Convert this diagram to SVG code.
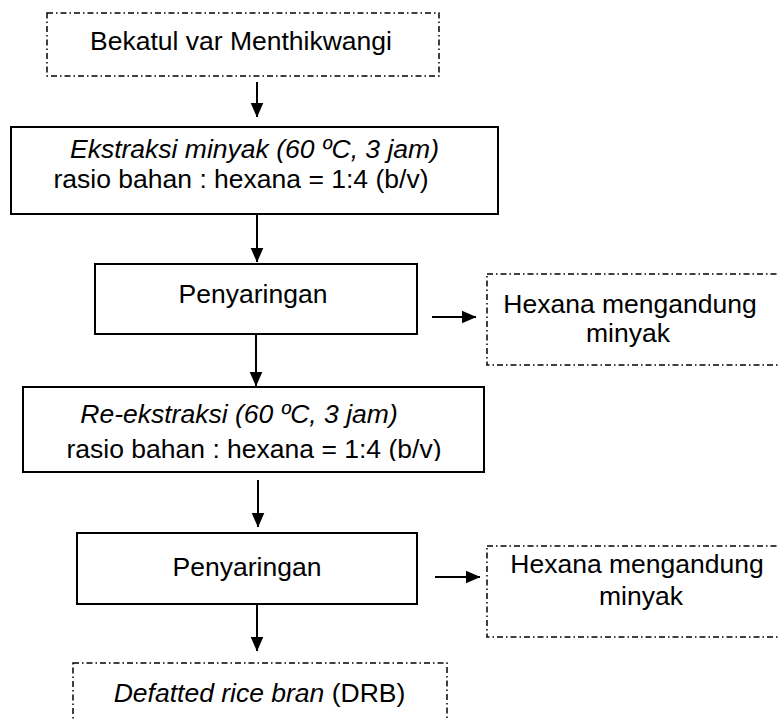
<svg xmlns="http://www.w3.org/2000/svg" width="779" height="720" viewBox="0 0 779 720">
<style>
.solid{fill:#fff;stroke:#000;stroke-width:2}
.dash{fill:#fff;stroke:#000;stroke-width:1.5;stroke-dasharray:6 3 1.5 3}
.t{font-family:"Liberation Sans",Arial,sans-serif;font-size:26.5px;fill:#000;text-anchor:middle}
.i{font-style:italic}
.c{fill:none;stroke:#000;stroke-width:2}
</style>
<defs>
<marker id="ah" markerUnits="userSpaceOnUse" markerWidth="15" markerHeight="14" viewBox="0 0 15 14" refX="14.5" refY="7" orient="auto">
<path d="M0,0.5 L15,7 L0,13.5 Z" fill="#000"/>
</marker>
<clipPath id="clip4"><rect x="0" y="380" width="779" height="81"/></clipPath>
</defs>
<rect width="779" height="720" fill="#fff"/>
<g id="connectors">
<line class="c" x1="257" y1="82" x2="257" y2="117" marker-end="url(#ah)"/>
<line class="c" x1="257" y1="214" x2="257" y2="262" marker-end="url(#ah)"/>
<line class="c" x1="256" y1="335" x2="256" y2="386" marker-end="url(#ah)"/>
<line class="c" x1="258" y1="480" x2="258" y2="527" marker-end="url(#ah)"/>
<line class="c" x1="257" y1="604" x2="257" y2="651" marker-end="url(#ah)"/>
<line class="c" x1="432" y1="317" x2="476" y2="317" marker-end="url(#ah)"/>
<line class="c" x1="435" y1="577" x2="480" y2="577" marker-end="url(#ah)"/>
</g>
<g id="n1">
<rect class="dash" x="47" y="13" width="392" height="63"/>
<text class="t" x="241" y="50">Bekatul var Menthikwangi</text>
</g>
<g id="n2">
<rect class="solid" x="11" y="127" width="487" height="87"/>
<text class="t i" x="254.5" y="158">Ekstraksi minyak (60 ºC, 3 jam)</text>
<text class="t" x="241" y="188">rasio bahan : hexana = 1:4 (b/v)</text>
</g>
<g id="n3">
<rect class="solid" x="95" y="264" width="322" height="70"/>
<text class="t" x="253" y="303">Penyaringan</text>
</g>
<g id="n4">
<rect class="dash" x="487" y="274" width="300" height="91"/>
<text class="t" x="630" y="313">Hexana mengandung</text>
<text class="t" x="628" y="342">minyak</text>
</g>
<g id="n5">
<rect class="solid" x="23" y="387" width="461" height="85"/>
<text class="t i" x="239" y="423">Re-ekstraksi (60 ºC, 3 jam)</text>
<text class="t" x="254" y="458" clip-path="url(#clip4)">rasio bahan : hexana = 1:4 (b/v)</text>
</g>
<g id="n6">
<rect class="solid" x="77" y="533" width="340" height="71"/>
<text class="t" x="247" y="576">Penyaringan</text>
</g>
<g id="n7">
<rect class="dash" x="487" y="546" width="300" height="91"/>
<text class="t" x="637" y="573">Hexana mengandung</text>
<text class="t" x="641" y="605">minyak</text>
</g>
<g id="n8">
<rect class="dash" x="73" y="663" width="374" height="70"/>
<text class="t" x="259.5" y="702"><tspan class="i">Defatted rice bran</tspan> (DRB)</text>
</g>
</svg>
